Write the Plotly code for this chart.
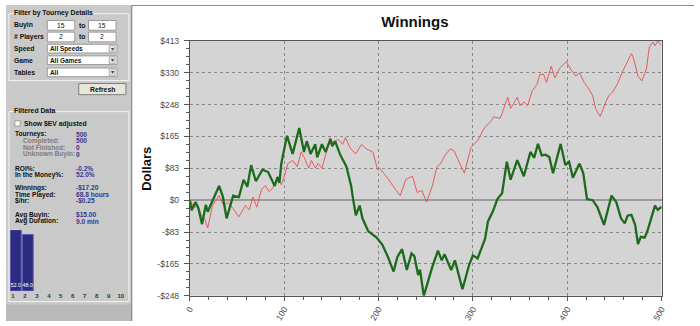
import plotly.graph_objects as go

W, H = 700, 326

# ---------------- data ----------------
green_n = [0, 2, 6, 9, 13, 17, 19, 26, 31, 35, 39, 46, 52, 57, 61, 65, 70, 77, 83, 90,
           93, 95, 97, 103, 109, 116, 121, 124, 128, 133, 135, 140, 144, 149, 151, 154,
           159, 166, 171, 173, 176, 180, 183, 189, 198, 204, 210, 216, 220, 225, 230,
           235, 238, 242, 244, 248, 257, 263, 267, 270, 277, 281, 284, 289, 296, 300,
           305, 310, 313, 316, 321, 326, 331, 336, 340, 347, 354, 361, 365, 369, 373,
           377, 381, 385, 393, 398, 402, 406, 413, 417, 421, 427, 432, 439, 444, 447,
           452, 457, 461, 464, 468, 472, 475, 478, 482, 485, 489, 493, 496, 500]
green_val = [0, -26, -5, -20, -62, -12, -30, 8, 37, 10, -47, 12, 8, 53, 35, 91, 49, 79, 73, 37,
             60, 45, 95, 167, 120, 187, 125, 153, 120, 145, 111, 145, 125, 158, 140, 153,
             120, 87, 37, 4, -39, -14, -47, -80, -97, -115, -147, -185, -147, -127, -181,
             -138, -145, -194, -180, -248, -173, -131, -156, -140, -181, -156, -185, -231, -168, -143,
             -151, -122, -100, -55, -30, 3, 18, 100, 53, 104, 62, 125, 110, 146, 116,
             118, 112, 70, 146, 91, 100, 58, 95, 70, 3, 0, -18, -64, -18, 12,
             -5, -47, -60, -40, -38, -64, -114, -95, -97, -80, -47, -14, -25, -17]

red_n = [0, 5, 8, 12, 16, 19, 24, 31, 36, 40, 46, 52, 59, 63, 67, 71, 76, 80, 84, 88, 93, 97,
         100, 104, 109, 114, 118, 121, 126, 129, 133, 136, 140, 146, 149, 152, 157, 162, 165,
         170, 176, 182, 187, 194, 199, 201, 204, 207, 218, 223, 229, 236, 241, 246, 251, 257,
         262, 266, 270, 276, 280, 286, 291, 298, 305, 312, 319, 322, 329, 337, 340, 343, 347,
         350, 354, 358, 363, 368, 371, 375, 378, 383, 387, 392, 399, 404, 409, 413, 418, 423,
         427, 430, 435, 441, 444, 448, 453, 458, 463, 468, 470, 475, 479, 482, 484, 487, 491,
         493, 496, 500]
red_val = [0, -20, -10, -39, -50, -72, -14, 12, -14, -5, -22, -43, -14, -25, 8, -18, 28, 38, 22, 32, 61, 40,
           60, 95, 103, 87, 125, 112, 83, 103, 83, 95, 83, 133, 162, 145, 158, 145, 162,
           135, 120, 145, 133, 125, 79, 83, 75, 66, 28, 12, 54, 62, 20, 25, -5, 37,
           87, 95, 115, 133, 128, 95, 70, 137, 154, 187, 204, 216, 212, 267, 238, 250, 267,
           245, 255, 245, 284, 300, 326, 326, 305, 347, 317, 342, 359, 338, 322, 330, 305, 288,
           271, 238, 217, 255, 271, 280, 300, 330, 355, 380, 370, 322, 309, 330, 340, 397, 410,
           400, 413, 401]

y_tick_vals = [-247.8, -165.2, -82.6, 0.0, 82.6, 165.2, 247.8, 330.4, 413.0]
y_tick_text = ["-$248", "-$165", "-$83", "$0", "$83", "$165", "$248", "$330", "$413"]
x_tick_vals = [0, 100, 200, 300, 400, 500]

finish_pos = [1, 2, 3, 4, 5, 6, 7, 8, 9, 10]
finish_pct = [52.0, 48.0, 0, 0, 0, 0, 0, 0, 0, 0]

filter_labels = ["Buyin", "# Players", "Speed", "Game", "Tables"]
buyin_range = ["15", "15"]
players_range = ["2", "2"]
dropdown_values = ["All Speeds", "All Games", "All"]

stat_labels = ["Tourneys:", "Completed:", "Not Finished:", "Unknown Buyin:",
               "ROI%:", "In the Money%:", "Winnings:", "Time Played:", "$/hr:",
               "Avg Buyin:", "Avg Duration:"]
stat_values = ["500", "500", "0", "0", "-0.2%", "52.0%", "-$17.20", "68.8 hours",
               "-$0.25", "$15.00", "9.0 min"]

# ---------------- helpers (pixel -> paper) ----------------
def X(px):
    return px / W

def Y(py):
    return 1 - py / H

PANEL = "#c9c9c9"
FONT = "Liberation Sans"
shapes = []
annotations = []

def rect(x0, y0, x1, y1, fill=None, line="#888888", lw=1):
    shapes.append(dict(type="rect", xref="paper", yref="paper", layer="below",
                       x0=X(x0), x1=X(x1), y0=Y(y0), y1=Y(y1),
                       fillcolor=fill if fill else "rgba(0,0,0,0)",
                       line=dict(color=line, width=lw) if lw else dict(width=0)))

def hline(x0, x1, y, color, lw=1):
    shapes.append(dict(type="line", xref="paper", yref="paper", layer="below",
                       x0=X(x0), x1=X(x1), y0=Y(y), y1=Y(y), line=dict(color=color, width=lw)))

def vline(x, y0, y1, color, lw=1):
    shapes.append(dict(type="line", xref="paper", yref="paper", layer="below",
                       x0=X(x), x1=X(x), y0=Y(y0), y1=Y(y1), line=dict(color=color, width=lw)))

def txt(x, y, s, size=6.6, color="#111111", bold=True, anchor="left", bg=None, angle=0):
    d = dict(x=X(x), y=Y(y), xref="paper", yref="paper",
             text=f"<b>{s}</b>" if bold else s, showarrow=False,
             xanchor=anchor, yanchor="middle", textangle=angle, borderpad=0,
             font=dict(family=FONT, size=size, color=color))
    if bg:
        d["bgcolor"] = bg
    annotations.append(d)

# ---------------- left panel ----------------
rect(0, 0, 128, 326, fill=PANEL, lw=0)
rect(0, 309, 128, 326, fill="#b9b9b9", lw=0)
vline(128, 0, 326, "#7a7a7a")
hline(128, 700, 0.5, "#8a8a8a")

# group box 1
rect(3, 9, 125, 78, line="#f4f4f4")
txt(7, 8.5, "Filter by Tourney Details", size=6.8, bg=PANEL)
rows_y = [21, 33, 45, 57, 69.5]
for lab, yy in zip(filter_labels, rows_y):
    txt(7, yy, lab, size=6.8)
for yy, vals in zip(rows_y[:2], [buyin_range, players_range]):
    rect(42, yy - 5, 70, yy + 5, fill="#ffffff", line="#9a9a9a")
    rect(84, yy - 5, 112, yy + 5, fill="#ffffff", line="#9a9a9a")
    txt(56, yy, vals[0], size=6.8, bold=False, anchor="center")
    txt(98, yy, vals[1], size=6.8, bold=False, anchor="center")
    txt(77, yy, "to", size=6.8, anchor="center")
for yy, v in zip(rows_y[2:], dropdown_values):
    rect(42, yy - 4.5, 113, yy + 4.5, fill="#ffffff", line="#9a9a9a")
    rect(105, yy - 3.5, 111, yy + 3.5, fill="#e4e4e4", line="#b0b0b0")
    txt(108, yy, "▾", size=6, bold=False, anchor="center", color="#444444")
    txt(44, yy, v, size=6.4)

# refresh button
rect(74, 81, 122, 92.5, fill="#e8e6d8", line="#7d7d7d")
txt(98, 87, "Refresh", size=6.8, anchor="center")

# group box 2
rect(3, 110, 125, 306, line="#f4f4f4")
txt(7, 108.5, "Filtered Data", size=6.8, bg=PANEL)
rect(9, 119.5, 14.5, 125, fill="#ffffff", line="#9a9a9a")
txt(17.5, 122.5, "Show $EV adjusted", size=6.8)
stat_y = [133.3, 140, 147.3, 154, 168.3, 175, 189.3, 196, 202.7, 216.7, 223.3]
gray_rows = {1, 2, 3}
for i, (lab, val, yy) in enumerate(zip(stat_labels, stat_values, stat_y)):
    if i in gray_rows:
        txt(16, yy, lab, size=6.6, color="#7c7c7c")
        txt(70, yy, val, size=6.6, color="#35358f")
    else:
        txt(8, yy, lab, size=6.6)
        txt(70, yy, val, size=6.6, color="#35358f")

# ---------------- main chart ----------------
plot_x0, plot_x1, plot_y0, plot_y1 = 187, 667, 37, 300
rect(plot_x0, plot_y0, plot_x1, plot_y1, fill="#d4d4d4", lw=0)

fig = go.Figure()
fig.add_trace(go.Scatter(x=red_n, y=red_val, mode="lines", xaxis="x", yaxis="y",
                         line=dict(color="#e85a5a", width=1), showlegend=False,
                         hoverinfo="skip"))
fig.add_trace(go.Scatter(x=green_n, y=green_val, mode="lines", xaxis="x", yaxis="y",
                         line=dict(color="#1d6a1d", width=2.3), showlegend=False,
                         hoverinfo="skip"))

bar_text = [f"{v:.1f}" if v > 0 else "" for v in finish_pct]
bar_lw = [1 if v > 0 else 0 for v in finish_pct]
fig.add_trace(go.Bar(x=finish_pos, y=finish_pct, xaxis="x3", yaxis="y4",
                     marker=dict(color="#2b2b80", line=dict(color="#5a5ab0", width=bar_lw)),
                     width=0.9, text=bar_text, textposition="inside",
                     insidetextanchor="start", textangle=0, constraintext="none",
                     textfont=dict(family=FONT, size=5.5, color="#ffffff"),
                     showlegend=False, hoverinfo="skip"))

tickfont = dict(family=FONT, size=8.5, color="#4a4a4a")
dom_x = [X(plot_x0), X(plot_x1)]
dom_y = [Y(plot_y1), Y(plot_y0)]
axcol = "#555555"

fig.update_layout(
    width=W, height=H, margin=dict(l=0, r=0, t=0, b=0),
    paper_bgcolor="#ffffff", plot_bgcolor="rgba(0,0,0,0)",
    showlegend=False,
    title=dict(text="<b>Winnings</b>", x=X(416), y=Y(17), xref="paper", yref="paper",
               xanchor="center", yanchor="middle",
               font=dict(family=FONT, size=15, color="#111111")),
    xaxis=dict(domain=dom_x, range=[0, 500], anchor="y", tickvals=x_tick_vals,
               ticks="outside", ticklen=4, tickcolor=axcol, tickangle=-60,
               tickfont=tickfont, showline=True, linecolor=axcol, linewidth=1, mirror=True,
               showgrid=True, gridcolor="#8a8a8a", griddash="dot", gridwidth=1,
               zeroline=False,
               minor=dict(dtick=20, tick0=0, ticks="outside", ticklen=3, tickcolor=axcol,
                          showgrid=False)),
    xaxis2=dict(overlaying="x", matches="x", anchor="y", side="bottom",
                tickvals=x_tick_vals, ticks="inside", ticklen=4, tickcolor=axcol,
                mirror="ticks", showticklabels=False, showgrid=False, zeroline=False,
                showline=False,
                minor=dict(dtick=20, tick0=0, ticks="inside", ticklen=3, tickcolor=axcol,
                           showgrid=False)),
    yaxis=dict(domain=dom_y, range=[-247.8, 413], anchor="x", tickvals=y_tick_vals,
               ticktext=y_tick_text, ticks="outside", ticklen=5, tickcolor=axcol,
               tickfont=tickfont, showline=True, linecolor=axcol, linewidth=1, mirror=True,
               showgrid=True, gridcolor="#8a8a8a", griddash="dot", gridwidth=1,
               zeroline=True, zerolinecolor="#9a9a9a", zerolinewidth=2,
               ticklabelstandoff=3,
               minor=dict(dtick=20.65, tick0=0, ticks="outside", ticklen=3, tickcolor=axcol,
                          showgrid=False)),
    yaxis2=dict(overlaying="y", matches="y", anchor="x", side="left",
                tickvals=y_tick_vals, ticks="inside", ticklen=5, tickcolor=axcol,
                mirror="ticks", showticklabels=False, showgrid=False, zeroline=False,
                showline=False,
                minor=dict(dtick=20.65, tick0=0, ticks="inside", ticklen=3, tickcolor=axcol,
                           showgrid=False)),
    yaxis3=dict(overlaying="y", matches="y", anchor="x", side="right",
                tickvals=y_tick_vals, ticktext=y_tick_text, ticks="outside", ticklen=5,
                tickcolor=axcol, tickfont=tickfont, showgrid=False, zeroline=False,
                showline=False, ticklabelstandoff=7,
                minor=dict(dtick=20.65, tick0=0, ticks="outside", ticklen=3, tickcolor=axcol,
                           showgrid=False)),
    xaxis3=dict(domain=[X(3.9), X(125.9)], range=[0.5, 10.5], anchor="y4",
                tickvals=finish_pos, ticktext=[f"<b>{p}</b>" for p in finish_pos],
                ticks="", showline=False, showgrid=False, zeroline=False,
                tickfont=dict(family=FONT, size=6, color="#333333"),
                ticklabelshift=-3, ticklabelstandoff=0),
    yaxis4=dict(domain=[Y(295), Y(232)], range=[0, 52], anchor="x3", visible=False),
    bargap=0.05,
    shapes=shapes,
    annotations=annotations,
)

fig.add_annotation(x=X(143.5), y=Y(169), xref="paper", yref="paper", text="<b>Dollars</b>",
                   showarrow=False, textangle=-90, xanchor="center", yanchor="middle",
                   font=dict(family=FONT, size=13, color="#111111"))

fig.write_html("out.html")
